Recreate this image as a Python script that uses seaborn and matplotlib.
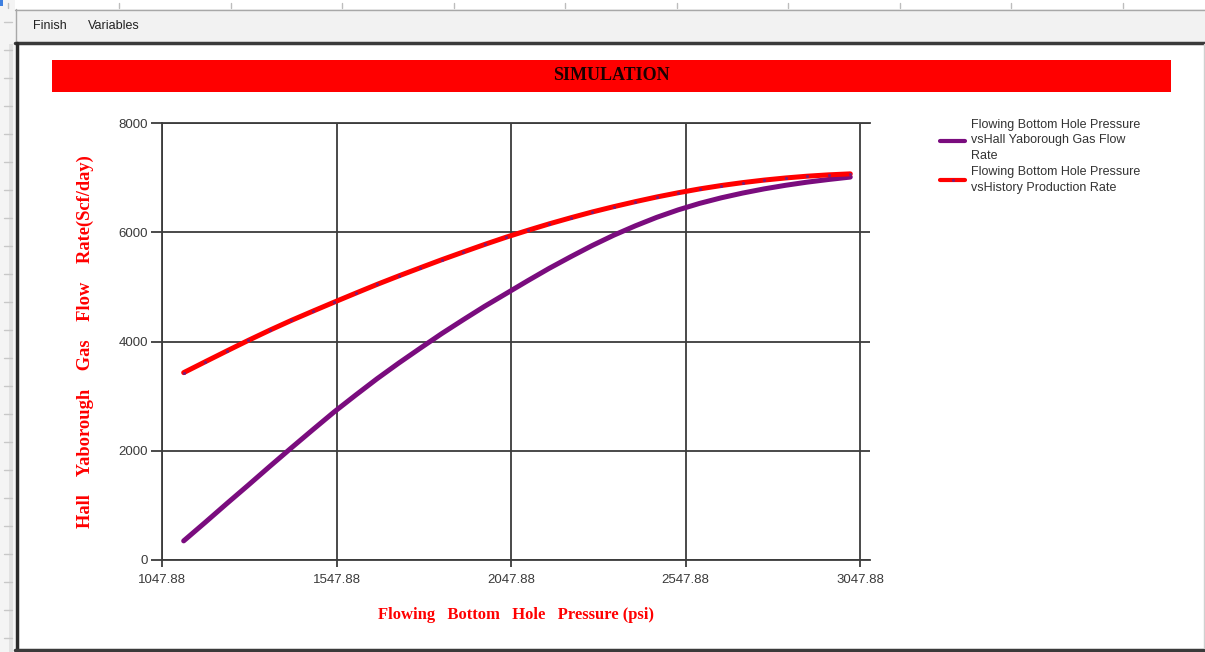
import matplotlib
matplotlib.use("Agg")
import matplotlib.pyplot as plt
from matplotlib.patches import Rectangle
import seaborn as sns
import pandas as pd

# ---------------- data ----------------
pressure = [1110, 1172, 1233, 1295, 1356, 1418, 1480, 1541, 1603, 1664, 1726,
            1788, 1849, 1911, 1972, 2034, 2096, 2157, 2219, 2280, 2342, 2404,
            2465, 2527, 2588, 2650, 2712, 2773, 2835, 2896, 2958, 3020]
hall_rate = [350, 690, 1030, 1370, 1710, 2050, 2385, 2710, 3020, 3318, 3604,
             3878, 4143, 4398, 4643, 4878, 5113, 5338, 5552, 5755, 5945, 6117,
             6272, 6410, 6528, 6630, 6718, 6794, 6860, 6917, 6966, 7010]
history_rate = [3430, 3630, 3825, 4020, 4205, 4385, 4555, 4720, 4885, 5045, 5200,
                5350, 5496, 5638, 5776, 5910, 6035, 6153, 6265, 6370, 6468, 6560,
                6645, 6723, 6793, 6855, 6909, 6955, 6994, 7026, 7051, 7069]
x_ticks = [1047.88, 1547.88, 2047.88, 2547.88, 3047.88]
x_tick_labels = ["1047.88", "1547.88", "2047.88", "2547.88", "3047.88"]
y_ticks = [0, 2000, 4000, 6000, 8000]
label_hall = "Flowing Bottom Hole Pressure\nvsHall Yaborough Gas Flow\nRate"
label_hist = "Flowing Bottom Hole Pressure\nvsHistory Production Rate"
title_text = "SIMULATION"
x_label = "Flowing   Bottom   Hole   Pressure (psi)"
y_label = "Hall    Yaborough    Gas    Flow    Rate(Scf/day)"
menu_items = ["Finish", "Variables"]

df = pd.DataFrame({"pressure": pressure, "hall": hall_rate, "history": history_rate})

sns.set_theme(style="white")
plt.rcParams["font.family"] = ["Liberation Sans", "DejaVu Sans"]

W, H = 1205, 652
fig = plt.figure(figsize=(W / 100, H / 100), dpi=100)
fig.patch.set_facecolor("white")

# ---------------- window chrome (pixel coordinates) ----------------
bg = fig.add_axes([0, 0, 1, 1], zorder=0)
bg.set_xlim(0, W)
bg.set_ylim(H, 0)
bg.axis("off")
bg.add_patch(Rectangle((0, 0), 15, H, facecolor="#f4f4f4", edgecolor="none"))
bg.add_patch(Rectangle((9, 44), 4, H - 44, facecolor="#e2e2e2", edgecolor="none"))
for yy in range(22, H, 28):
    bg.plot([4, 12], [yy, yy], color="#c8c8c8", lw=1)
for xx in [8, 119, 231, 342, 454, 565, 677, 788, 900, 1011, 1123]:
    bg.plot([xx, xx], [3, 8], color="#bdbdbd", lw=1)
bg.add_patch(Rectangle((0, 0), 3, 6, facecolor="#3d7fe0", edgecolor="none"))
bg.add_patch(Rectangle((15, 9), W - 15, 33, facecolor="#f2f2f2", edgecolor="none"))
bg.plot([15, W], [9.5, 9.5], color="#a8a8a8", lw=1)
bg.plot([15.5, 15.5], [9, 42], color="#a8a8a8", lw=1)
bg.text(33, 26, menu_items[0], fontsize=9, color="#222222", va="center", ha="left")
bg.text(88, 26, menu_items[1], fontsize=9, color="#222222", va="center", ha="left")
bg.plot([15, W], [43, 43], color="#3a3a3a", lw=2.5)
bg.plot([16.5, 16.5], [43, 650], color="#2a2a2a", lw=2.5)
bg.plot([15, W], [649.5, 649.5], color="#3a3a3a", lw=2.5)
bg.plot([1203.5, 1203.5], [44, 648], color="#d0d0d0", lw=1)
bg.add_patch(Rectangle((52, 60), 1119, 32, facecolor="#ff0000", edgecolor="none"))
bg.text(611, 76, title_text, fontsize=13, fontweight="bold", color="#1a0000",
        family="Liberation Serif", ha="center", va="center")

# ---------------- chart ----------------
ax = fig.add_axes([162 / W, 92 / H, (870 - 162) / W, (560 - 123) / H], zorder=2)
ax.patch.set_alpha(0)

purple = "#7a0c7e"
red = "#ff0000"
sns.lineplot(data=df, x="pressure", y="hall", ax=ax, color=purple, linewidth=3.6,
             label=label_hall, solid_capstyle="round")
sns.lineplot(data=df, x="pressure", y="history", ax=ax, color=red, linewidth=3.6,
             label=label_hist, solid_capstyle="round", marker="o", markersize=2.2,
             markerfacecolor="#7a1a7a", markeredgewidth=0)

ax.set_xlim(1047.88, 3076.5)
ax.set_ylim(0, 8000)
ax.set_xticks(x_ticks)
ax.set_xticklabels(x_tick_labels)
ax.set_yticks(y_ticks)
ax.grid(True, color="#3c3c3c", linewidth=1.3)
ax.set_axisbelow(True)
for s in ["left", "bottom", "top"]:
    ax.spines[s].set_visible(True)
    ax.spines[s].set_color("#3c3c3c")
    ax.spines[s].set_linewidth(1.3)
ax.spines["right"].set_visible(False)
ax.tick_params(axis="y", direction="out", length=8, width=1.3, color="#3c3c3c",
               pad=2, labelsize=9.5, labelcolor="#3a3a3a", left=True)
ax.tick_params(axis="x", direction="out", length=5, width=1.3, color="#3c3c3c",
               pad=5, labelsize=9.5, labelcolor="#3a3a3a", bottom=True)

ax.set_xlabel(x_label, fontsize=12, fontweight="bold", color=red,
              family="Liberation Serif", labelpad=15)
ax.set_ylabel(y_label, fontsize=13.3, fontweight="bold", color=red,
              family="Liberation Serif", labelpad=18)

leg = ax.legend(loc="upper left", bbox_to_anchor=(935 / W, 1 - 114 / H),
                bbox_transform=fig.transFigure, frameon=False, fontsize=9,
                handlelength=2.0, handletextpad=0.45, labelspacing=0.35,
                borderaxespad=0)
for t in leg.get_texts():
    t.set_color("#333333")
    t.set_linespacing(1.38)
for h in leg.get_lines():
    h.set_linewidth(3)

fig.savefig("out.png", dpi=100)
